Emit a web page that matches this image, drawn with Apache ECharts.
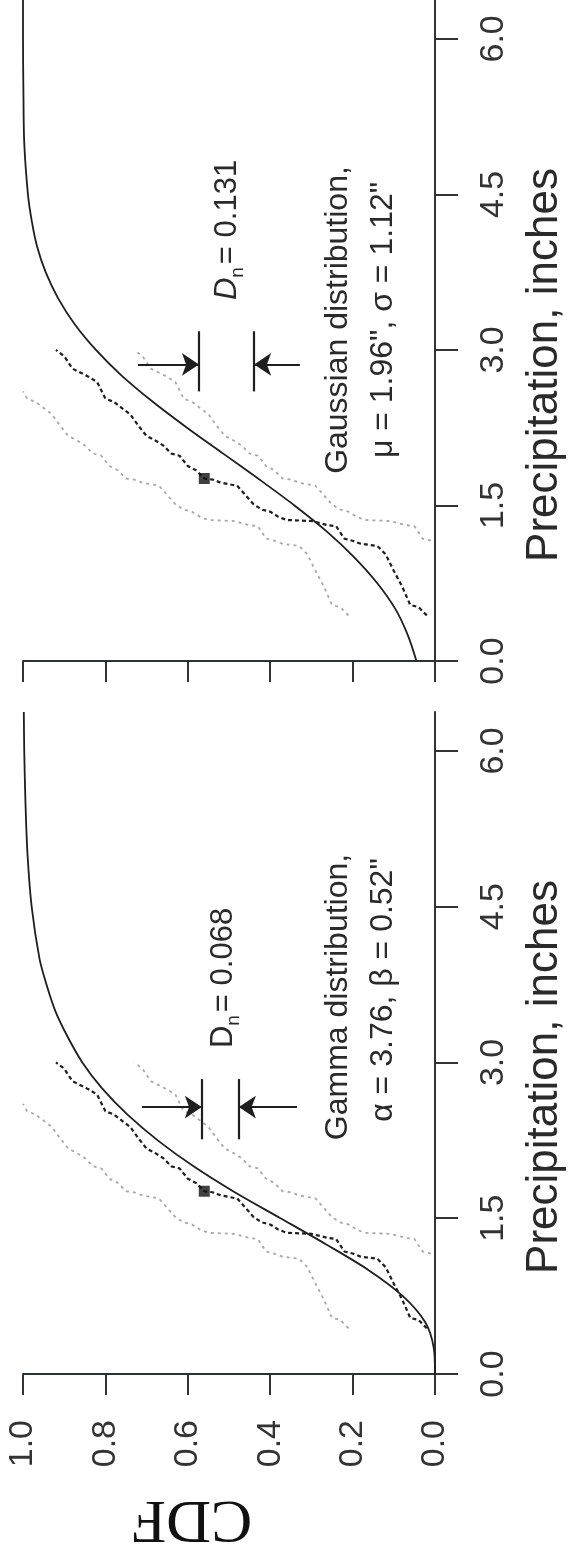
<!DOCTYPE html>
<html><head><meta charset="utf-8">
<script src="https://cdn.jsdelivr.net/npm/echarts@6/dist/echarts.min.js"></script>
<style>html,body{margin:0;padding:0;background:#fff}#c{width:571px;height:1545px}</style>
</head><body><div id="c"></div>
<script>
// ---- data (CDF vs precipitation, inches) ----
const cdfTicks = [0, 0.2, 0.4, 0.6, 0.8, 1.0];
const precipTicks = [0, 1.5, 3.0, 4.5, 6.0];

// theoretical curves
const gammaP = [0, 0.25, 0.5, 0.75, 1.0, 1.25, 1.5, 1.75, 2.0, 2.25, 2.5, 2.75, 3.0, 3.25, 3.5, 3.75, 4.0, 4.5, 5.0, 5.5, 6.0, 6.375];
const gammaC = [0, 0.003, 0.024, 0.078, 0.161, 0.265, 0.375, 0.486, 0.586, 0.673, 0.747, 0.808, 0.856, 0.892, 0.922, 0.943, 0.960, 0.979, 0.989, 0.994, 0.997, 0.998];
const gaussP = [0, 0.25, 0.5, 0.75, 1.0, 1.25, 1.5, 1.75, 2.0, 2.25, 2.5, 2.75, 3.0, 3.25, 3.5, 3.75, 4.0, 4.25, 4.5, 5.0, 5.5, 6.0, 6.375];
const gaussC = [0.045, 0.066, 0.096, 0.140, 0.196, 0.263, 0.341, 0.426, 0.514, 0.602, 0.685, 0.760, 0.823, 0.875, 0.915, 0.945, 0.966, 0.979, 0.988, 0.997, 0.999, 1.0, 1.0];

// empirical CDF (black dotted)
const empP = [0.44, 0.52, 0.54, 0.72, 0.87, 1.03, 1.11, 1.12, 1.13, 1.16, 1.18, 1.30, 1.31, 1.35, 1.36, 1.39, 1.44, 1.46, 1.51, 1.69, 1.72, 1.75, 1.76, 1.84, 1.88, 1.98, 2.00, 2.08, 2.13, 2.17, 2.27, 2.38, 2.44, 2.50, 2.53, 2.69, 2.74, 2.82, 2.94, 3.00];
const empC = [0.02, 0.04, 0.06, 0.08, 0.10, 0.12, 0.14, 0.16, 0.18, 0.20, 0.22, 0.24, 0.26, 0.30, 0.36, 0.38, 0.40, 0.42, 0.44, 0.48, 0.52, 0.54, 0.56, 0.58, 0.60, 0.62, 0.64, 0.66, 0.68, 0.70, 0.72, 0.74, 0.76, 0.78, 0.80, 0.82, 0.84, 0.88, 0.90, 0.92];

// grey bands
const upperP = [0.44, 0.52, 0.54, 0.72, 0.87, 1.03, 1.11, 1.12, 1.13, 1.16, 1.18, 1.30, 1.31, 1.35, 1.36, 1.39, 1.44, 1.46, 1.51, 1.69, 1.72, 1.75, 1.76, 1.84, 1.88, 1.98, 2.00, 2.08, 2.13, 2.17, 2.27, 2.38, 2.44, 2.50, 2.53, 2.60];
const upperC = [0.21, 0.23, 0.25, 0.27, 0.29, 0.31, 0.33, 0.35, 0.37, 0.39, 0.41, 0.43, 0.45, 0.49, 0.55, 0.57, 0.59, 0.61, 0.63, 0.67, 0.71, 0.73, 0.75, 0.77, 0.79, 0.81, 0.83, 0.85, 0.87, 0.89, 0.91, 0.93, 0.95, 0.97, 0.99, 1.00];
const lowerP = [1.16, 1.18, 1.30, 1.31, 1.35, 1.36, 1.39, 1.44, 1.46, 1.51, 1.69, 1.72, 1.75, 1.76, 1.84, 1.88, 1.98, 2.00, 2.08, 2.13, 2.17, 2.27, 2.38, 2.44, 2.50, 2.53, 2.69, 2.74, 2.82, 2.94, 3.00];
const lowerC = [0.01, 0.03, 0.05, 0.07, 0.11, 0.17, 0.19, 0.21, 0.23, 0.25, 0.29, 0.33, 0.35, 0.37, 0.39, 0.41, 0.43, 0.45, 0.47, 0.49, 0.51, 0.53, 0.55, 0.57, 0.59, 0.61, 0.63, 0.65, 0.69, 0.71, 0.73];

// maximum-difference point [precip, CDF]
const maxPoint = [1.76, 0.56];

// D_n indicator: [bar1 CDF, bar2 CDF, bar low precip, bar high precip, arrow precip, arrow1 start CDF, arrow2 start CDF]
const gaussDn = [0.573, 0.439, 2.60, 3.18, 2.86, 0.721, 0.328];
const gammaDn = [0.566, 0.476, 2.26, 2.84, 2.57, 0.711, 0.335];

const pairs = (P, C) => P.map((p, i) => [C[i], p]);

const FONT = '"Liberation Sans", Arial, sans-serif';
const INK = '#1e1e1e';
const GREY = '#a8a8a8';

function grid(top, height) {
  return { left: 23, width: 412, top: top, height: height, containLabel: false, outerBoundsMode: 'none' };
}
function xAx(gi, showLabel) {
  return {
    type: 'value', gridIndex: gi, min: 0, max: 1, interval: 0.2, inverse: true, position: 'bottom',
    axisLine: { show: true, lineStyle: { color: '#2b3236', width: 2 } },
    axisTick: { show: true, inside: false, length: 21, lineStyle: { color: '#333', width: 2 }, customValues: cdfTicks },
    axisLabel: { show: showLabel, rotate: 90, margin: 46, fontSize: 34, color: '#333', fontFamily: FONT,
      customValues: cdfTicks, formatter: v => v.toFixed(1) },
    splitLine: { show: false }
  };
}
function yAx(gi) {
  return {
    type: 'value', gridIndex: gi, min: 0, max: 6.375, interval: 1.5, position: 'right',
    axisLine: { show: true, onZero: false, lineStyle: { color: '#333', width: 2 } },
    axisTick: { show: true, inside: false, length: 23, lineStyle: { color: '#333', width: 2 }, customValues: precipTicks },
    axisLabel: { show: true, rotate: 90, margin: 42, fontSize: 34, color: '#333', fontFamily: FONT,
      customValues: precipTicks, formatter: v => v.toFixed(1) },
    splitLine: { show: false }
  };
}
function panelSeries(gi, P, C, dn) {
  const base = { xAxisIndex: gi, yAxisIndex: gi, showSymbol: false, silent: true, animation: false };
  const bar = { type: 'solid', color: INK, width: 2.2 };
  const arr = { type: 'solid', color: INK, width: 2 };
  return [
    Object.assign({ type: 'line', data: pairs(upperP, upperC), lineStyle: { color: GREY, width: 1.8, type: [3, 4] }, z: 2 }, base),
    Object.assign({ type: 'line', data: pairs(lowerP, lowerC), lineStyle: { color: GREY, width: 1.8, type: [3, 4] }, z: 2 }, base),
    Object.assign({ type: 'line', data: pairs(empP, empC), lineStyle: { color: INK, width: 2.2, type: [4, 3] }, z: 3 }, base),
    Object.assign({ type: 'line', data: pairs(P, C), smooth: 0.3, lineStyle: { color: INK, width: 1.8 }, z: 4,
      markLine: {
        silent: true, animation: false, label: { show: false }, symbolSize: 17,
        data: [
          [{ coord: [dn[0], dn[2]], symbol: 'none', lineStyle: bar }, { coord: [dn[0], dn[3]], symbol: 'none' }],
          [{ coord: [dn[1], dn[2]], symbol: 'none', lineStyle: bar }, { coord: [dn[1], dn[3]], symbol: 'none' }],
          [{ coord: [dn[5], dn[4]], symbol: 'none', lineStyle: arr }, { coord: [dn[0], dn[4]], symbol: 'arrow' }],
          [{ coord: [dn[6], dn[4]], symbol: 'none', lineStyle: arr }, { coord: [dn[1], dn[4]], symbol: 'arrow' }]
        ],
        lineStyle: { type: 'solid', color: INK, width: 2 }
      } }, base),
    Object.assign({ type: 'scatter', data: [[maxPoint[1], maxPoint[0]]], symbol: 'rect', symbolSize: 11,
      itemStyle: { color: '#111' }, z: 6 }, base)
  ];
}

function rText(text, x, y, size, extra) {
  return {
    type: 'text', x: x, y: y, rotation: Math.PI / 2, silent: true,
    style: Object.assign({ text: text, font: size + 'px ' + FONT, fill: '#2a2a2a', align: 'center', verticalAlign: 'middle' }, extra || {})
  };
}
function dnText(x, y, value, italic) {
  return { type: 'text', x: x, y: y, rotation: Math.PI / 2, silent: true,
    style: { text: '{d|D}{s|n}{t|= ' + value + '}', align: 'center', verticalAlign: 'middle', fill: '#2a2a2a',
      rich: { d: { fontSize: 31, fontFamily: FONT, fontStyle: italic ? 'italic' : 'normal', lineHeight: 40, verticalAlign: 'middle' },
              s: { fontSize: 19, fontFamily: FONT, lineHeight: 40, verticalAlign: 'bottom', padding: [0, 3, 0, 0] },
              t: { fontSize: 31, fontFamily: FONT, lineHeight: 40, verticalAlign: 'middle' } } } };
}

const chart = echarts.init(document.getElementById('c'), null, { renderer: 'canvas' });
chart.setOption({
  animation: false,
  backgroundColor: '#ffffff',
  grid: [grid(0, 661), grid(712, 662)],
  xAxis: [xAx(0, false), xAx(1, true)],
  yAxis: [yAx(0), yAx(1)],
  series: [].concat(panelSeries(0, gaussP, gaussC, gaussDn), panelSeries(1, gammaP, gammaC, gammaDn)),
  graphic: [
    dnText(227, 230, '0.131', true),
    dnText(223, 978, '0.068', false),
    rText('Gaussian distribution,', 338, 320, 32),
    rText('\u03bc = 1.96", \u03c3 = 1.12"', 383, 320, 32),
    rText('Gamma distribution,', 338, 997, 32),
    rText('\u03b1 = 3.76, \u03b2 = 0.52"', 383, 990, 32),
    rText('Precipitation, inches', 545, 365, 44),
    rText('Precipitation, inches', 545, 1077, 44),
    { type: 'text', x: 192, y: 1518, rotation: Math.PI, silent: true,
      style: { text: 'CDF', font: '62px "Liberation Serif", "Times New Roman", serif', fill: '#111', align: 'center', verticalAlign: 'middle' } }
  ]
});
</script></body></html>
